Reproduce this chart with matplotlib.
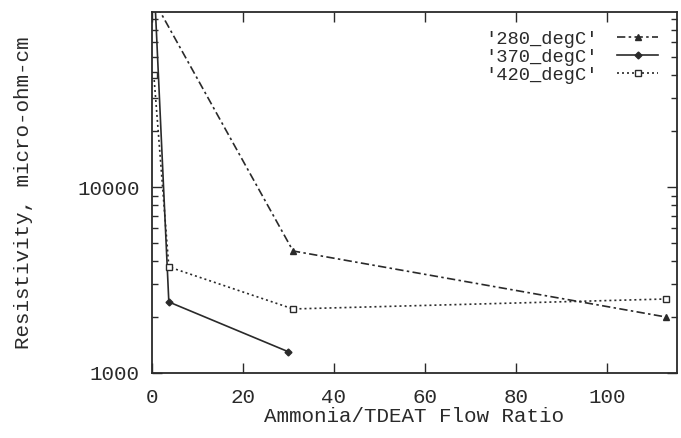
import matplotlib
matplotlib.use("Agg")
from matplotlib import pyplot as plt

# datos
x_280 = [1.0, 31, 113]
r_280 = [95000, 4530, 2000]
x_370 = [0.7, 3.7, 30]
r_370 = [95000, 2410, 1300]
x_420 = [0.4, 3.7, 31, 113]
r_420 = [40000, 3720, 2210, 2500]

xticks = [0, 20, 40, 60, 80, 100]
yticks = [1000, 10000]

plt.rcParams['font.family'] = ['Liberation Mono', 'DejaVu Sans Mono']
col = '#2a2a2a'

fig = plt.figure(figsize=(6.81, 4.38), dpi=100)
ax = fig.add_axes([152/681, 65/438, 525/681, 361/438])

ax.plot(x_280, r_280, color=col, lw=1.2, ls=(0, (5, 2, 1.5, 2)),
        marker='^', ms=4.5, label="'280_degC'")
ax.plot(x_370, r_370, color=col, lw=1.2, ls='-',
        marker='D', ms=3.5, label="'370_degC'")
ax.plot(x_420, r_420, color=col, lw=1.2, ls=(0, (1.2, 1.8)),
        marker='s', ms=5, mfc='white', mew=1.0, label="'420_degC'")

ax.set_yscale('log')
ax.set_xlim(0, 115.4)
ax.set_ylim(1000, 87300)
ax.set_xticks(xticks)
ax.set_xticklabels([str(v) for v in xticks])
ax.set_yticks(yticks)
ax.set_yticklabels([str(v) for v in yticks])
ax.tick_params(which='both', direction='in', top=True, right=True,
               labelsize=15, colors=col, width=1.0)
ax.tick_params(which='major', length=7)
ax.tick_params(axis='x', which='major', pad=11)
ax.tick_params(axis='y', which='major', pad=9)
ax.tick_params(which='minor', length=4)
ax.tick_params(axis='y', which='minor', labelleft=False)
for s in ax.spines.values():
    s.set_linewidth(1.3)
    s.set_color(col)

ax.set_xlabel('Ammonia/TDEAT Flow Ratio', fontsize=15, color=col, labelpad=0)
ax.set_ylabel('Resistivity, micro-ohm-cm', fontsize=15, color=col, labelpad=32)

ax.legend(loc='upper right', frameon=False, markerfirst=False,
          prop={'family': 'Liberation Mono', 'size': 13.5},
          handlelength=2.2, handletextpad=1.0, labelspacing=0.05,
          borderaxespad=0.6, labelcolor=col)

fig.savefig('out.png', dpi=100)
